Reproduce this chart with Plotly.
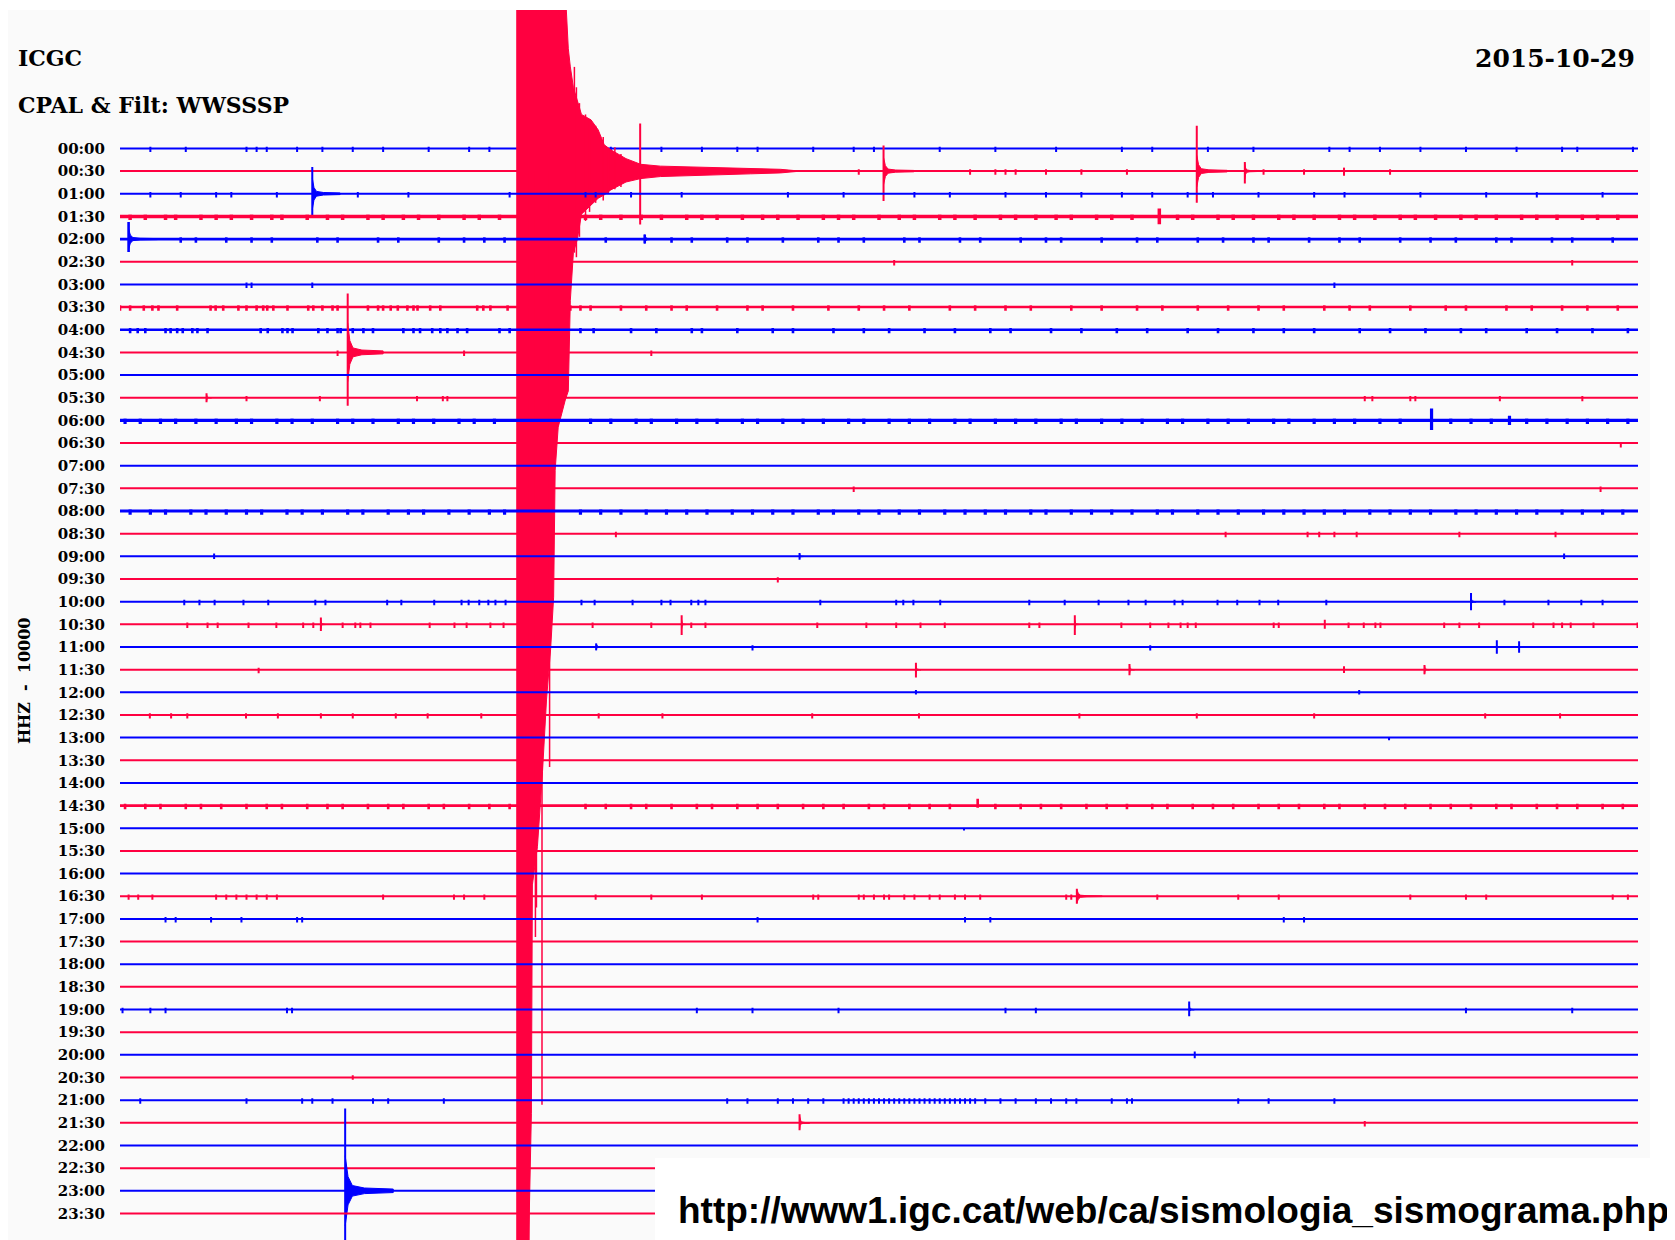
import plotly.graph_objects as go

# ---------------- data ----------------
LABELS = ["00:00", "00:30", "01:00", "01:30", "02:00", "02:30", "03:00", "03:30",
          "04:00", "04:30", "05:00", "05:30", "06:00", "06:30", "07:00", "07:30",
          "08:00", "08:30", "09:00", "09:30", "10:00", "10:30", "11:00", "11:30",
          "12:00", "12:30", "13:00", "13:30", "14:00", "14:30", "15:00", "15:30",
          "16:00", "16:30", "17:00", "17:30", "18:00", "18:30", "19:00", "19:30",
          "20:00", "20:30", "21:00", "21:30", "22:00", "22:30", "23:00", "23:30"]

# large earthquake on the 00:30 trace: envelope (minutes, amplitude up / down in trace spacings)
QUAKE_LINE = 1
QUAKE_MIN = [7.83, 8.07, 8.13, 8.15, 8.25, 8.35, 8.43, 8.51, 8.57, 8.60, 8.66, 8.80, 8.86, 8.90,
             8.96, 9.04, 9.12, 9.31, 9.45, 9.57, 9.70, 10.00, 10.29, 10.68, 11.47, 12.46, 13.05, 13.45]
QUAKE_UP = [8, 8, 8, 8, 8, 8, 8, 8, 8, 8, 8, 8, 5.4, 4.6,
            3.7, 3.1, 2.5, 2.26, 1.82, 1.16, 0.94, 0.55, 0.3, 0.22, 0.17, 0.12, 0.08, 0.0]
QUAKE_DOWN = [48, 48, 41.6, 31.5, 29.8, 26.5, 23.3, 21.1, 18.8, 13.2, 11.3, 10.1, 9.7, 5.7,
              3.6, 3.0, 1.9, 1.5, 1.2, 1.05, 0.83, 0.48, 0.33, 0.24, 0.17, 0.12, 0.08, 0.0]
QUAKE_SPIKE_MIN = [8.08, 8.21, 8.23, 8.34, 8.49, 8.98, 9.02, 9.08, 9.20, 9.28, 9.40, 9.55, 9.65, 9.78, 9.90]
QUAKE_SPIKE_UP = [0, 0, 0, 0, 0, 4.6, 3.7, 3.0, 2.5, 2.3, 2.0, 1.5, 1.0, 1.05, 0.75]
QUAKE_SPIKE_DOWN = [48, 33.8, 32.5, 41.2, 26.3, 3.6, 3.8, 2.9, 2.2, 1.8, 1.4, 1.3, 1.0, 0.8, 0.7]

# discrete events: trace index, minute, amplitude up, amplitude down, coda length (min), coda amplitude
EV_LINE = [1, 1, 1, 1, 1, 2, 3, 4, 4, 9, 11, 12, 12, 13, 18, 18, 18, 20, 21, 21, 21, 21, 22, 22, 22,
           23, 23, 23, 23, 24, 24, 26, 29, 30, 33, 38, 40, 41, 43, 46]
EV_MIN = [10.28, 15.09, 21.28, 22.23, 24.19, 3.80, 20.54, 0.17, 10.37, 4.50, 1.71, 25.92, 27.46, 29.66,
          1.86, 13.43, 28.54, 26.70, 3.97, 11.10, 18.87, 23.81, 9.41, 27.21, 27.65, 15.73, 19.95, 24.19,
          25.78, 15.73, 24.49, 25.08, 16.95, 16.68, 18.91, 21.13, 21.24, 4.60, 13.43, 4.45]
EV_UP = [2.1, 1.13, 2.0, 0.4, 0.15, 1.18, 0.35, 0.75, 0.2, 2.6, 0.2, 0.52, 0.2, 0.0, 0.12, 0.15, 0.12,
         0.38, 0.3, 0.4, 0.4, 0.2, 0.15, 0.3, 0.25, 0.3, 0.25, 0.15, 0.2, 0.1, 0.1, 0.0, 0.3, 0.0, 0.33,
         0.35, 0.15, 0.1, 0.38, 3.63]
EV_DOWN = [2.36, 1.32, 1.4, 0.55, 0.2, 1.0, 0.35, 0.57, 0.2, 2.36, 0.2, 0.42, 0.2, 0.2, 0.12, 0.15, 0.12,
           0.38, 0.3, 0.47, 0.47, 0.2, 0.15, 0.3, 0.25, 0.35, 0.25, 0.15, 0.2, 0.1, 0.1, 0.12, 0.1, 0.1,
           0.33, 0.3, 0.15, 0.1, 0.33, 3.0]
EV_CODA_LEN = [0.4, 0.6, 0.6, 0.25, 0.1, 0.55, 0, 0.57, 0.3, 0.7, 0.1, 0.15, 0, 0, 0, 0.1, 0, 0.1, 0.1,
               0.1, 0.1, 0, 0.2, 0, 0, 0.1, 0.1, 0, 0.1, 0, 0, 0, 0, 0, 0.5, 0.1, 0, 0, 0.2, 0.95]
EV_CODA_AMP = [0.3, 0.6, 0.7, 0.35, 0.15, 0.7, 0, 0.45, 0.2, 1.3, 0.15, 0.25, 0, 0, 0, 0.12, 0, 0.3, 0.2,
               0.2, 0.2, 0, 0.15, 0, 0, 0.2, 0.2, 0, 0.2, 0, 0, 0, 0, 0, 0.3, 0.25, 0, 0, 0.3, 1.55]

# small noise ticks per trace (minutes)
TICKS = [
    [0.6, 1.3, 2.5, 2.7, 2.9, 3.5, 4.0, 4.6, 5.2, 6.1, 6.9, 7.3, 9.1, 9.7, 10.7, 11.5, 12.2, 12.6, 13.7, 14.5,
     14.9, 16.2, 17.3, 18.5, 19.8, 20.4, 21.5, 22.4, 23.9, 24.3, 24.9, 25.7, 26.6, 27.6, 28.5, 28.8, 29.9],
    [14.6, 16.8, 17.3, 17.5, 17.7, 18.3, 19.0, 19.9, 22.6, 23.4, 25.1],
    [0.6, 1.2, 1.9, 2.2, 3.1, 4.7, 5.7, 7.7, 9.2, 9.4, 10.1, 11.1, 13.2, 14.3, 15.7, 16.4, 17.5, 18.3, 19.0,
     19.8, 20.4, 21.1, 21.6, 22.5, 23.6, 24.2, 25.7, 27.0, 28.0, 29.3],
    [0.2, 0.5, 0.9, 1.1, 1.6, 1.9, 2.2, 2.6, 3.0, 3.2, 3.7, 4.1, 4.4, 4.9, 5.2, 5.6, 5.9, 6.3, 6.8, 7.1, 7.5,
     9.2, 9.5, 9.9, 10.3, 10.7, 11.2, 11.5, 11.8, 12.3, 12.7, 13.0, 13.4, 13.9, 14.2, 14.5, 15.0, 15.4, 15.7,
     16.2, 16.5, 16.9, 17.4, 17.7, 18.1, 18.5, 18.8, 19.3, 19.6, 20.0, 20.9, 21.2, 21.7, 22.0, 22.4, 22.9,
     23.2, 23.6, 24.1, 24.4, 24.8, 25.3, 25.6, 26.0, 26.5, 26.8, 27.2, 27.7, 28.0, 28.4, 28.9, 29.2, 29.6],
    [1.2, 1.5, 2.1, 2.6, 3.0, 3.9, 4.3, 5.1, 5.5, 6.3, 6.8, 7.2, 7.6, 9.6, 10.9, 11.3, 12.0, 12.4, 13.1, 13.8,
     14.2, 14.7, 15.5, 15.8, 16.6, 17.0, 17.8, 18.3, 18.6, 19.4, 20.1, 20.5, 21.3, 21.8, 22.4, 22.7, 23.5,
     24.1, 24.5, 25.3, 25.9, 26.4, 27.2, 27.5, 28.3, 28.7, 29.5],
    [15.3, 28.7],
    [2.5, 2.6, 3.8, 24.0],
    [0.0, 0.2, 0.47, 0.64, 0.76, 1.13, 1.79, 1.89, 2.04, 2.34, 2.5, 2.7, 2.83, 2.91, 3.03, 3.31, 3.72, 3.82,
     4.0, 4.2, 4.3, 4.9, 5.1, 5.2, 5.35, 5.49, 5.68, 5.8, 5.88, 6.13, 6.33, 7.06, 7.18, 7.32, 7.66, 8.9, 9.1,
     9.3, 9.9, 10.4, 10.9, 11.2, 11.8, 12.4, 12.7, 13.3, 14.0, 14.6, 15.1, 15.6, 16.4, 16.9, 17.5, 18.0,
     18.8, 19.4, 20.1, 20.6, 21.3, 21.9, 22.5, 23.0, 23.8, 24.3, 24.7, 25.5, 26.2, 26.6, 27.4, 27.9, 28.5,
     29.0, 29.6],
    [0.2, 0.35, 0.5, 0.9, 1.0, 1.13, 1.24, 1.43, 1.53, 1.73, 2.78, 2.92, 3.21, 3.31, 3.41, 3.92, 4.1, 4.3,
     4.36, 4.6, 4.81, 5.0, 5.6, 5.8, 5.93, 6.17, 6.33, 6.47, 6.67, 6.86, 7.5, 7.7, 9.1, 9.36, 10.1, 10.6,
     11.3, 11.5, 12.2, 12.9, 13.3, 14.1, 14.7, 15.2, 15.9, 16.5, 17.2, 17.6, 18.4, 19.0, 19.7, 20.3, 21.1,
     21.7, 22.4, 23.0, 23.6, 24.5, 25.1, 25.8, 26.5, 27.0, 27.8, 28.4, 29.1, 29.8],
    [4.3, 6.8, 10.5],
    [],
    [2.5, 3.95, 5.87, 6.38, 6.47, 24.6, 24.75, 25.5, 25.6, 27.27, 28.9],
    [0.1, 0.4, 0.8, 1.1, 1.5, 1.9, 2.3, 2.6, 3.1, 3.4, 3.8, 4.3, 4.6, 5.0, 5.5, 5.8, 6.2, 6.7, 7.0, 7.4, 9.3,
     9.7, 10.2, 10.5, 11.0, 11.4, 11.8, 12.3, 12.6, 13.1, 13.5, 13.9, 14.4, 14.7, 15.2, 15.6, 16.0, 16.5,
     16.8, 17.3, 17.7, 18.1, 18.6, 18.9, 19.4, 19.8, 20.2, 20.7, 21.0, 21.5, 21.9, 22.3, 22.8, 23.1, 23.6,
     24.0, 24.4, 24.9, 25.3, 26.3, 26.7, 27.1, 27.8, 28.2, 28.6, 29.0, 29.4, 29.8],
    [],
    [],
    [14.5, 29.26],
    [0.2, 0.6, 0.9, 1.4, 1.7, 2.1, 2.5, 2.8, 3.3, 3.6, 4.0, 4.5, 4.8, 5.3, 5.7, 6.0, 6.5, 6.9, 7.3, 7.6, 9.1,
     9.5, 9.9, 10.4, 10.8, 11.2, 11.6, 12.1, 12.5, 12.9, 13.3, 13.8, 14.1, 14.6, 15.0, 15.4, 15.8, 16.3,
     16.7, 17.1, 17.5, 18.0, 18.3, 18.8, 19.2, 19.6, 20.0, 20.5, 20.8, 21.3, 21.7, 22.1, 22.6, 23.0, 23.4,
     23.8, 24.2, 24.7, 25.1, 25.5, 25.9, 26.4, 26.8, 27.2, 27.6, 28.0, 28.5, 28.9, 29.3, 29.7],
    [9.8, 21.85, 23.47, 23.7, 24.0, 24.44, 26.47, 28.37],
    [],
    [13.0],
    [1.27, 1.57, 1.87, 2.44, 2.93, 3.86, 4.06, 5.28, 5.56, 6.21, 6.75, 6.89, 7.1, 7.28, 7.42, 7.62, 9.12,
     9.38, 10.13, 10.70, 10.88, 11.29, 11.43, 11.57, 13.84, 15.34, 15.48, 15.68, 16.21, 17.97, 18.67, 19.34,
     19.93, 20.27, 20.84, 21.0, 21.69, 22.08, 22.52, 22.89, 23.84, 27.36, 28.23, 28.88, 29.3],
    [1.33, 1.73, 1.93, 2.54, 3.09, 3.62, 3.82, 4.4, 4.65, 4.75, 4.95, 6.12, 6.61, 6.85, 7.32, 7.58, 9.34,
     10.5, 11.29, 11.57, 13.78, 14.75, 15.34, 15.82, 16.3, 17.97, 18.17, 19.79, 20.36, 20.72, 20.96, 21.1,
     21.26, 22.8, 22.9, 24.28, 24.58, 24.81, 24.91, 26.17, 26.47, 26.86, 27.93, 28.33, 28.5, 28.67, 29.12,
     29.99],
    [12.5, 20.36],
    [2.74],
    [],
    [0.59, 1.01, 1.33, 2.49, 3.12, 3.97, 4.6, 5.45, 6.08, 7.14, 9.46, 10.72, 13.68, 15.79, 18.96, 21.28,
     23.6, 26.98, 28.46],
    [],
    [],
    [],
    [0.1, 0.5, 0.8, 1.3, 1.6, 2.0, 2.5, 2.9, 3.2, 3.7, 4.1, 4.4, 4.9, 5.3, 5.6, 6.1, 6.4, 6.9, 7.3, 7.7, 9.2,
     9.6, 10.1, 10.4, 10.9, 11.4, 11.7, 12.2, 12.6, 13.0, 13.5, 13.9, 14.3, 14.8, 15.1, 15.6, 16.0, 16.4,
     17.3, 17.8, 18.2, 18.6, 19.1, 19.5, 19.9, 20.4, 20.7, 21.2, 21.6, 22.0, 22.5, 22.9, 23.3, 23.8, 24.1,
     24.6, 25.0, 25.4, 25.9, 26.3, 26.7, 27.2, 27.5, 28.0, 28.4, 28.8, 29.3, 29.7],
    [],
    [],
    [],
    [0.17, 0.36, 0.64, 1.9, 2.1, 2.3, 2.5, 2.7, 2.9, 3.1, 5.2, 6.6, 6.8, 7.2, 9.4, 10.5, 11.5, 13.7, 13.8,
     14.6, 14.7, 14.9, 15.1, 15.2, 15.5, 15.7, 16.0, 16.2, 16.5, 16.7, 17.0, 18.7, 18.8, 20.5, 22.1, 22.9,
     25.5, 26.6, 27.0, 29.5, 29.8],
    [0.9, 1.1, 1.8, 2.4, 3.5, 3.6, 12.6, 16.7, 17.2, 23.0, 23.4],
    [],
    [],
    [],
    [0.05, 0.6, 0.9, 3.3, 3.4, 11.4, 12.5, 14.2, 17.5, 18.1, 26.6, 28.7],
    [],
    [],
    [],
    [0.4, 2.5, 3.6, 3.8, 4.2, 5.0, 5.3, 6.4, 12.0, 12.4, 13.0, 13.3, 13.6, 13.9, 14.3, 14.4, 14.5, 14.6,
     14.7, 14.8, 14.9, 15.0, 15.1, 15.2, 15.3, 15.4, 15.5, 15.6, 15.7, 15.8, 15.9, 16.0, 16.1, 16.2, 16.3,
     16.4, 16.5, 16.6, 16.7, 16.8, 16.9, 17.1, 17.4, 17.7, 18.1, 18.4, 18.7, 18.9, 19.6, 19.9, 20.0, 22.1,
     22.7, 24.0],
    [24.6],
    [],
    [],
    [],
    [],
]

# ---------------- styles ----------------
BLUE = "#0000ff"
RED = "#ff0040"
THICK = {3: 3.5, 12: 3.2, 16: 3.2, 4: 2.6, 7: 2.6, 8: 2.6, 29: 2.6}
TICK_UP, TICK_DOWN = 0.08, 0.16
CODA_SHAPE_X = [0.0, 0.06, 0.15, 0.4, 1.0]
CODA_SHAPE_A = [1.0, 0.4, 0.15, 0.08, 0.05]

# page offset of the plotly div (browser default body margin)
OFF = 8
W, H = 1675 - OFF, 1240 - OFF
ML, MR, MT, MB = 120 - OFF, 37, 10 - OFF, 0
PW, PH = W - ML - MR, H - MT - MB
Y_TOP = 6.11
Y_BOT = Y_TOP - PH / 22.66


def px(xp):
    """page x pixel -> paper fraction"""
    return (xp - OFF - ML) / PW


def py(yp):
    """page y pixel -> paper fraction"""
    return (H - MB - (yp - OFF)) / PH


def color_of(i):
    return BLUE if i % 2 == 0 else RED


fig = go.Figure()

for i, lab in enumerate(LABELS):
    base = -i
    col = color_of(i)
    spikes = [(t, TICK_UP, TICK_DOWN) for t in TICKS[i]]
    for k, ln in enumerate(EV_LINE):
        if ln == i:
            spikes.append((EV_MIN[k], EV_UP[k], EV_DOWN[k]))
    spikes.sort()
    xs, ys = [0.0], [base]
    for t, u, d in spikes:
        xs += [t, t, t, t]
        ys += [base, base + u, base - d, base]
    xs.append(30.0)
    ys.append(base)
    fig.add_trace(go.Scatter(x=xs, y=ys, mode="lines", line=dict(color=col, width=THICK.get(i, 2)),
                             hoverinfo="skip", showlegend=False))

    # codas
    for k, ln in enumerate(EV_LINE):
        if ln == i and EV_CODA_LEN[k] > 0:
            t, L, a = EV_MIN[k], EV_CODA_LEN[k], EV_CODA_AMP[k]
            top_x = [t + f * L for f in CODA_SHAPE_X]
            top_y = [base + g * a for g in CODA_SHAPE_A]
            bot_y = [base - g * a for g in CODA_SHAPE_A]
            fig.add_trace(go.Scatter(x=top_x + top_x[::-1], y=top_y + bot_y[::-1], mode="lines",
                                     fill="toself", fillcolor=col, line=dict(color=col, width=1),
                                     hoverinfo="skip", showlegend=False))

    if i == QUAKE_LINE:
        qx = QUAKE_MIN + QUAKE_MIN[::-1]
        qy = [base + u for u in QUAKE_UP] + [base - d for d in QUAKE_DOWN][::-1]
        fig.add_trace(go.Scatter(x=qx, y=qy, mode="lines", fill="toself", fillcolor=col,
                                 line=dict(color=col, width=1), hoverinfo="skip", showlegend=False))
        sx, sy = [], []
        for t, u, d in zip(QUAKE_SPIKE_MIN, QUAKE_SPIKE_UP, QUAKE_SPIKE_DOWN):
            sx += [t, t, None]
            sy += [base + u, base - d, None]
        fig.add_trace(go.Scatter(x=sx, y=sy, mode="lines", line=dict(color=col, width=1.5),
                                 hoverinfo="skip", showlegend=False))

TXT_FONT = "DejaVu Serif"
fig.update_layout(
    width=W, height=H,
    margin=dict(l=ML, r=MR, t=MT, b=MB, autoexpand=False),
    paper_bgcolor="white",
    plot_bgcolor="#fafafa",
    xaxis=dict(range=[0, 30], visible=False, fixedrange=True),
    yaxis=dict(range=[Y_BOT, Y_TOP], tickvals=[-i for i in range(len(LABELS))], ticktext=LABELS,
               showgrid=False, zeroline=False, showline=False, ticks="", automargin=False,
               ticklabelstandoff=14,
               tickfont=dict(family=TXT_FONT, size=15, color="black", weight="bold"), fixedrange=True),
    shapes=[
        dict(type="rect", xref="paper", yref="paper", x0=px(5), x1=px(1650), y0=py(1245), y1=py(10),
             fillcolor="#fafafa", line=dict(width=0), layer="below"),
        dict(type="rect", xref="paper", yref="paper", x0=px(655), x1=px(1690), y0=py(1250), y1=py(1158),
             fillcolor="white", line=dict(width=0), layer="above"),
    ],
    annotations=[
        dict(text="ICGC", xref="paper", yref="paper", x=px(16), y=py(58), xanchor="left", yanchor="middle",
             showarrow=False, font=dict(family=TXT_FONT, size=22, color="black", weight="bold")),
        dict(text="CPAL &amp; Filt: WWSSSP", xref="paper", yref="paper", x=px(16), y=py(105), xanchor="left",
             yanchor="middle", showarrow=False,
             font=dict(family=TXT_FONT, size=22, color="black", weight="bold")),
        dict(text="2015-10-29", xref="paper", yref="paper", x=px(1637), y=py(58), xanchor="right",
             yanchor="middle", showarrow=False,
             font=dict(family=TXT_FONT, size=25, color="black", weight="bold")),
        dict(text="HHZ  -  10000", xref="paper", yref="paper", x=px(24), y=py(681), xanchor="center",
             yanchor="middle", textangle=-90, showarrow=False,
             font=dict(family=TXT_FONT, size=16, color="black", weight="bold")),
        dict(text="http://www1.igc.cat/web/ca/sismologia_sismograma.php", xref="paper", yref="paper",
             x=px(676), y=py(1210), xanchor="left", yanchor="middle", showarrow=False,
             font=dict(family="Liberation Sans", size=37, color="black", weight="bold")),
    ],
)

fig.write_html("out.html")
